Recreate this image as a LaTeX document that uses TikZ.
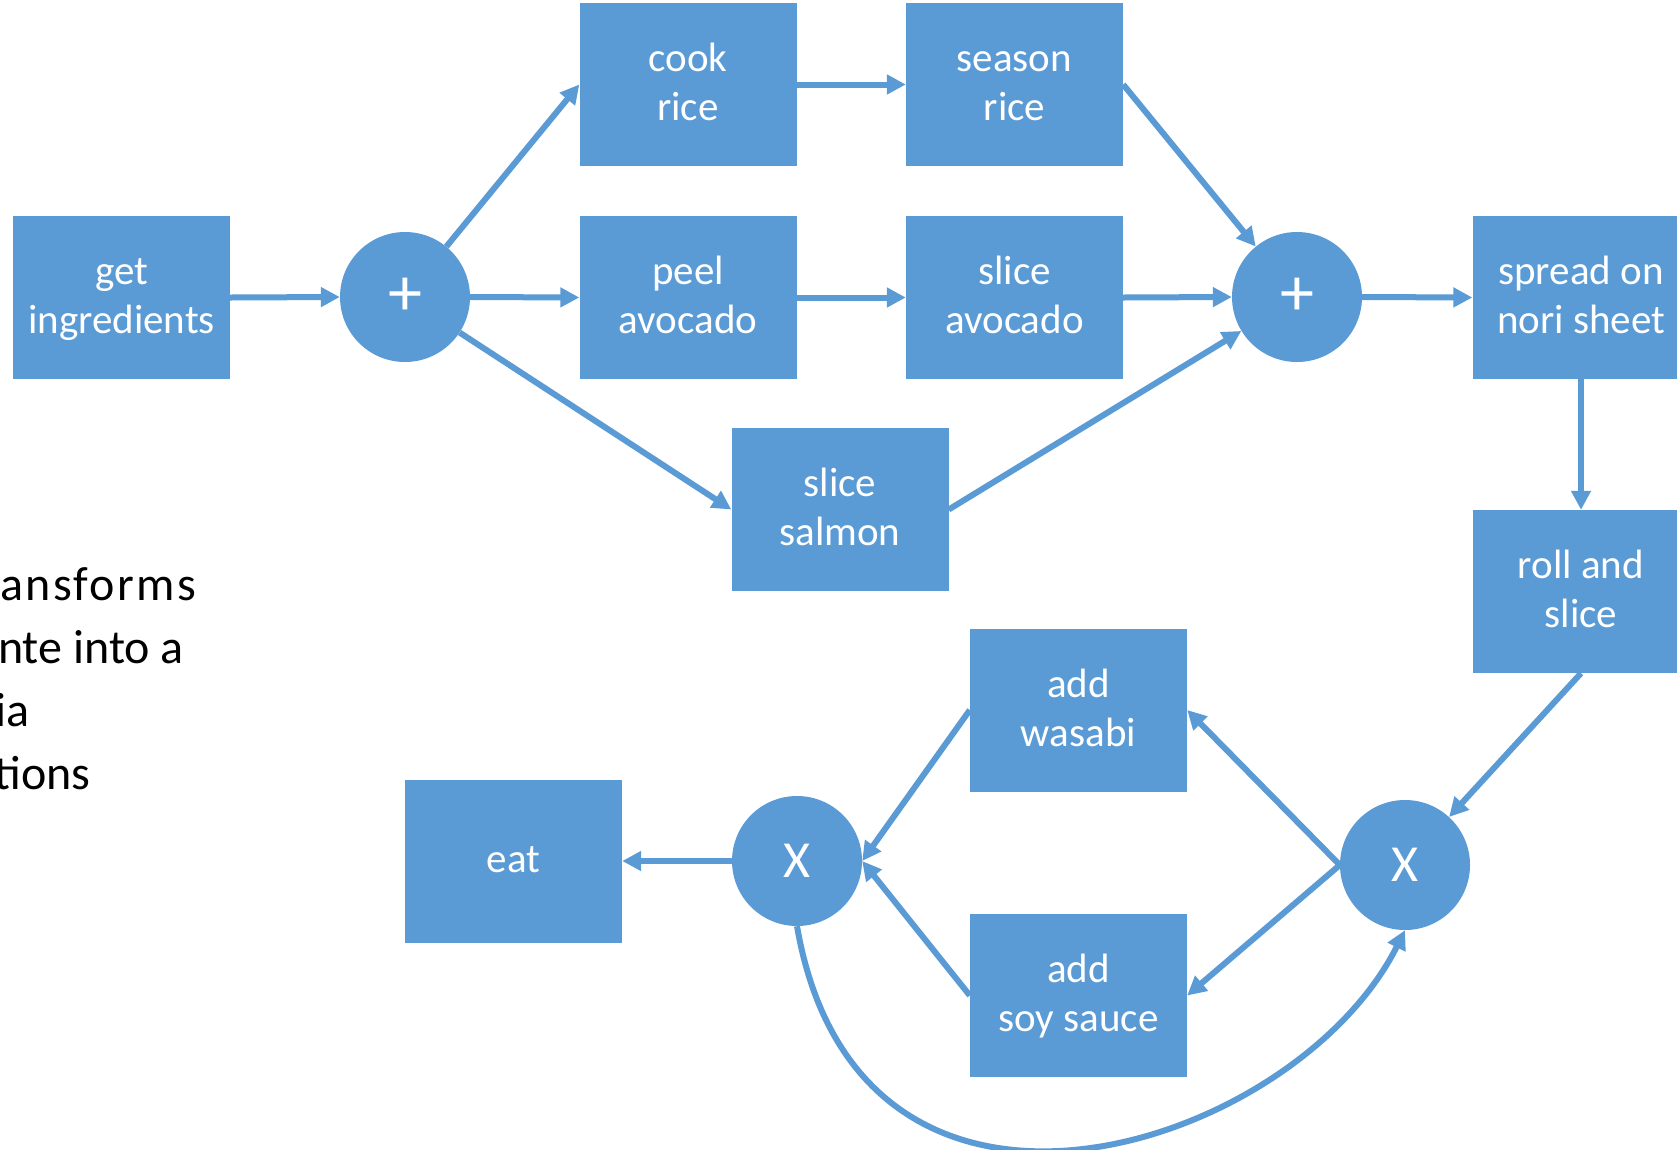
\documentclass[tikz,border=0pt]{standalone}
\usepackage{fontspec}
\setmainfont{Carlito}
\usetikzlibrary{arrows.meta}
\definecolor{officeblue}{HTML}{5B9BD5}
% task label: centred lines in a tabular, first row given a fixed height
\newcommand{\tasklabel}[1]{\begin{tabular}{@{}c@{}}\rule{0pt}{38.5pt}#1\end{tabular}}
\begin{document}
\begin{tikzpicture}[x=1pt,y=-1pt,
  task/.style={fill=officeblue, draw=none, minimum width=217pt, minimum height=163pt,
    inner sep=0pt, text=white, font=\fontsize{41}{49}\selectfont},
  gate/.style={circle, fill=officeblue, minimum size=130pt, inner sep=0pt, text=white},
  flow/.style={draw=officeblue, line width=6pt, -{Triangle[length=19pt,width=19pt]}},
  side/.style={anchor=base west, text=black, inner sep=0pt, font=\fontsize{48}{63}\selectfont}]
\useasboundingbox (0,0) rectangle (1677,1149);
\clip (0,0) rectangle (1677,1149);
\fill[white] (0,0) rectangle (1677,1149);

% caption text running off the left edge
\node[side, font=\fontsize{48}{63}\selectfont\addfontfeatures{LetterSpace=5}] (t1) at (0,600) {ansforms};
\node[side, anchor=base east] (t2) at (184,663) {nte into a};
\node[side, anchor=base east] (t3) at (30,726) {ia};
\node[side, anchor=base east] (t4) at (91,789) {tions};

% tasks
\node[task] (get)    at (121.5,297.5) {\tasklabel{get\\ingredients}};
\node[task] (cook)   at (688,84.5)    {\tasklabel{cook\\rice}};
\node[task] (season) at (1014.5,84.5) {\tasklabel{season\\rice}};
\node[task] (peel)   at (688,297.5)   {\tasklabel{peel\\avocado}};
\node[task] (slicea) at (1014.5,297.5){\tasklabel{slice\\avocado}};
\node[task] (salmon) at (840,509.5)   {\tasklabel{slice\\salmon}};
\node[task] (spread) at (1581,297.5)  {\tasklabel{spread on\\nori sheet}};
\node[task] (roll)   at (1581,591.5)  {\tasklabel{roll and\\slice}};
\node[task] (wasabi) at (1078.5,710)  {\tasklabel{add\\wasabi}};
\node[task] (soy)    at (1078.5,995.5){\tasklabel{add\\soy sauce}};
\node[task] (eat)    at (513.5,861)   {\tasklabel{eat}};

% gateways
\node[gate, font=\fontsize{68}{70}\selectfont] (plus1) at (405,297)  {+};
\node[gate, font=\fontsize{68}{70}\selectfont] (plus2) at (1297,297) {+};
\node[gate, font=\fontsize{52}{60}\selectfont] (xl)    at (797,861)  {X};
\node[gate, font=\fontsize{52}{60}\selectfont] (xr)    at (1405,865) {X};

% connectors
\draw[flow] (get.east) -- (plus1.west);
\draw[flow] (plus1) -- (cook.west);
\draw[flow] (plus1.east) -- (peel.west);
\draw[flow] (plus1) -- (salmon.west);
\draw[flow] (cook.east) -- (season.west);
\draw[flow] (peel.east) -- (slicea.west);
\draw[flow] (season.east) -- (plus2);
\draw[flow] (slicea.east) -- (plus2.west);
\draw[flow] (salmon.east) -- (plus2);
\draw[flow] (plus2.east) -- (spread.west);
\draw[flow] (spread.south) -- (roll.north);
\draw[flow] (roll.south) -- (xr);
\draw[flow] (xr.west) -- (wasabi.east);
\draw[flow] (xr.west) -- (soy.east);
\draw[flow] (wasabi.west) -- (xl.east);
\draw[flow] (soy.west) -- (xl.east);
\draw[flow] (xl.west) -- (eat.east);
\draw[flow] (xl.south) .. controls (860,1290) and (1295,1150) .. (xr.south);
\end{tikzpicture}
\end{document}
